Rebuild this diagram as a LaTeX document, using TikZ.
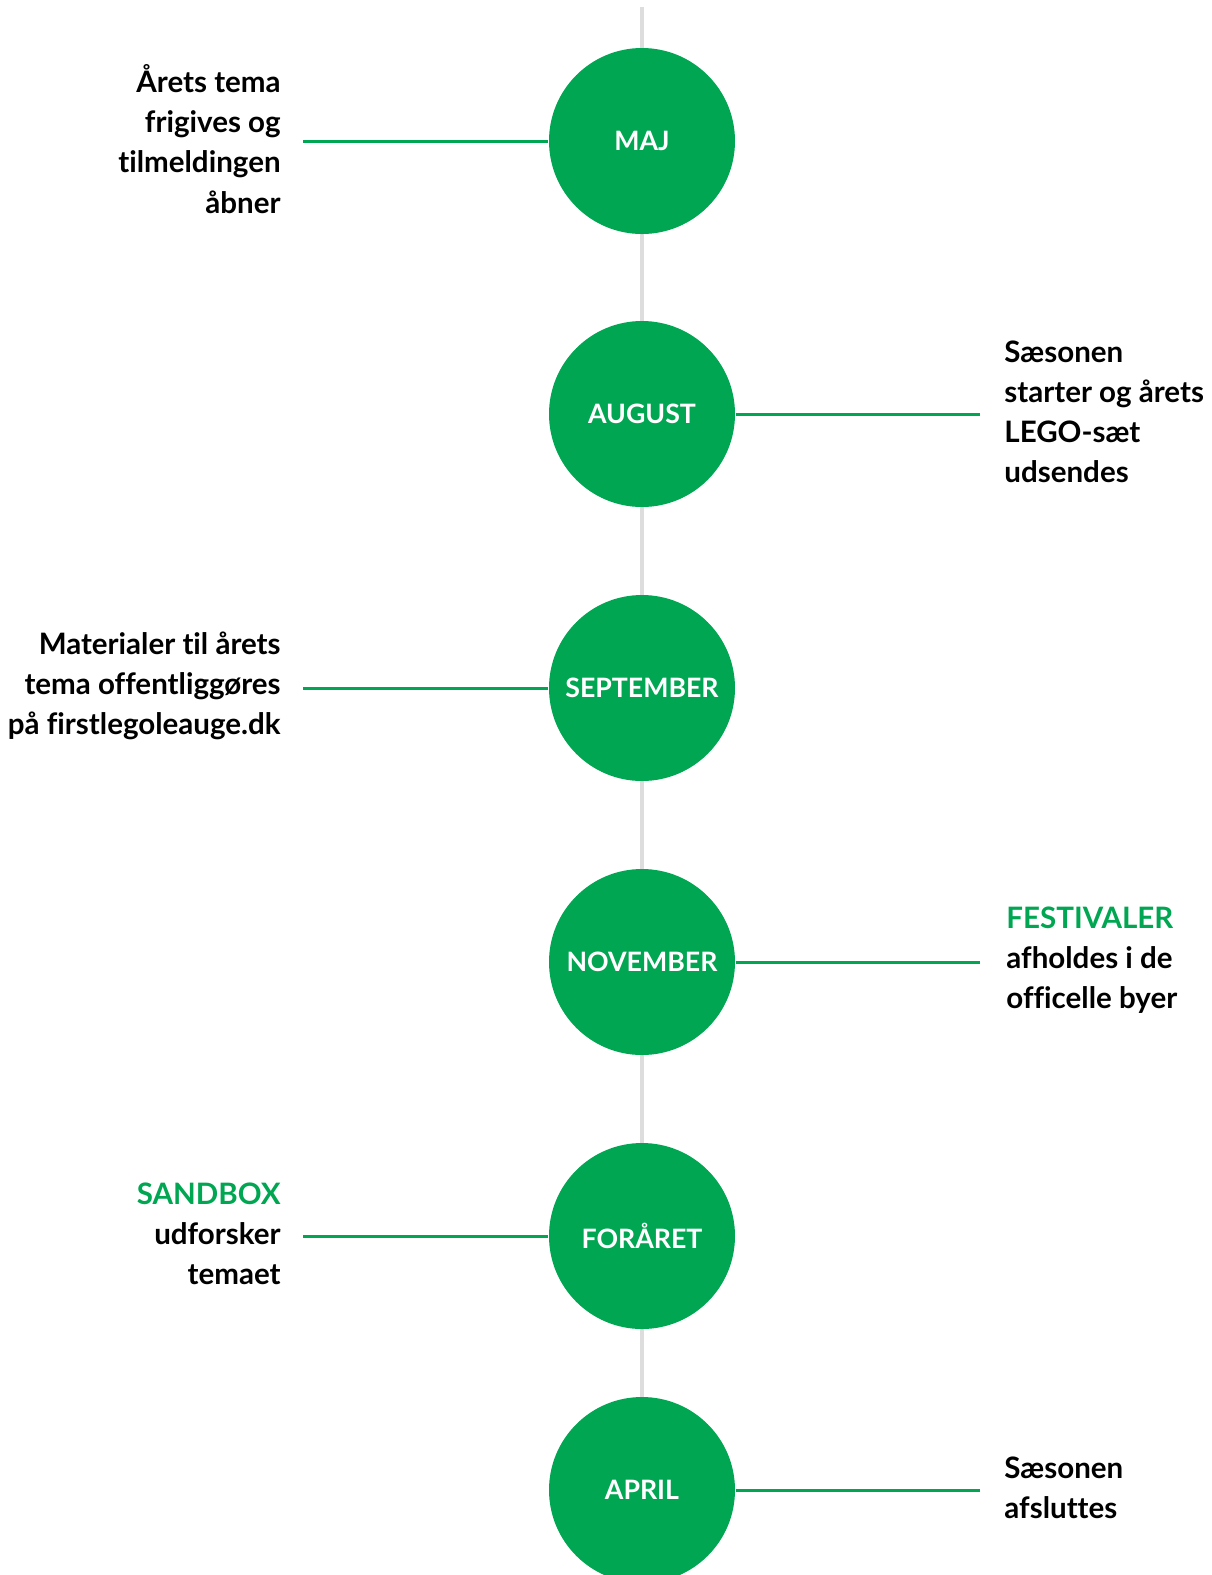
\documentclass[tikz,border=0pt]{standalone}
\usepackage{fontspec}
\setmainfont{Lato}[Ligatures=NoCommon]
\usetikzlibrary{positioning}
\definecolor{flgreen}{HTML}{00A651}
\definecolor{spinegray}{HTML}{DDDDDD}

\begin{document}
\begin{tikzpicture}[
    month/.style={circle, fill=flgreen, minimum size=1.86cm, inner sep=0pt, text=white, font=\fontsize{7.6}{9.2}\selectfont\bfseries},
    note/.style={font=\fontsize{8.4}{11.4}\selectfont\bfseries, inner sep=0pt, yshift=0.02cm},
    leftnote/.style={note, align=right},
    rightnote/.style={note, align=left},
    tick/.style={draw=flgreen, line width=0.03cm}
]
    \useasboundingbox (0,0) rectangle (12.11,-15.75);

    % Timeline spine
    \coordinate (top) at (6.42,-0.07);
    \coordinate (bottom) at (6.42,-15.75);
    \draw[spinegray, line width=0.04cm] (top) -- (bottom);

    % Months
    \node[month] (maj) at (6.42,-1.41) {MAJ};
    \node[month] (aug) at (6.42,-4.14) {AUGUST};
    \node[month] (sep) at (6.42,-6.88) {SEPTEMBER};
    \node[month] (nov) at (6.42,-9.62) {NOVEMBER};
    \node[month] (spr) at (6.42,-12.36) {FORÅRET};
    \node[month] (apr) at (6.42,-14.90) {APRIL};

    % Leader lines
    \coordinate[left=2.45cm of maj.west] (majend);
    \coordinate[right=2.44cm of aug.east] (augend);
    \coordinate[left=2.45cm of sep.west] (sepend);
    \coordinate[right=2.44cm of nov.east] (novend);
    \coordinate[left=2.45cm of spr.west] (sprend);
    \coordinate[right=2.44cm of apr.east] (aprend);
    \draw[tick] (majend) -- (maj);
    \draw[tick] (aug) -- (augend);
    \draw[tick] (sepend) -- (sep);
    \draw[tick] (nov) -- (novend);
    \draw[tick] (sprend) -- (spr);
    \draw[tick] (apr) -- (aprend);

    % Notes
    \node[leftnote, left=0.22cm of majend] (majtxt) {Årets tema\\frigives og\\tilmeldingen\\åbner};
    \node[rightnote, right=0.24cm of augend] (augtxt) {Sæsonen\\starter og årets\\LEGO-sæt\\udsendes};
    \node[leftnote, left=0.22cm of sepend] (septxt) {Materialer til årets\\tema offentliggøres\\på firstlegoleauge.dk};
    \node[rightnote, right=0.26cm of novend] (novtxt) {\textcolor{flgreen}{FESTIVALER}\\afholdes i de\\officelle byer};
    \node[leftnote, left=0.22cm of sprend] (sprtxt) {\textcolor{flgreen}{SANDBOX}\\udforsker\\temaet};
    \node[rightnote, right=0.24cm of aprend] (aprtxt) {Sæsonen\\afsluttes};
\end{tikzpicture}
\end{document}
